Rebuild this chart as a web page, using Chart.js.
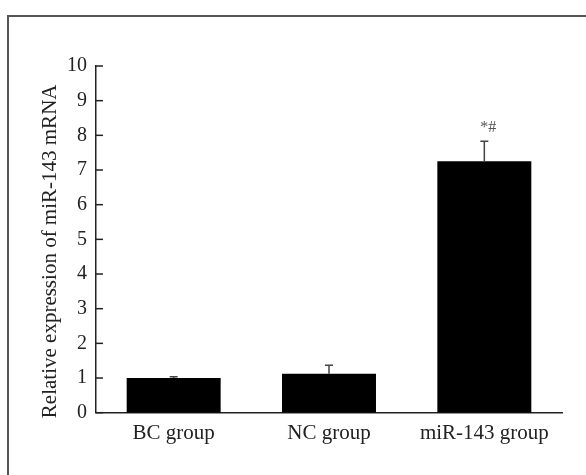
<!DOCTYPE html>
<html>
<head>
<meta charset="utf-8">
<script src="https://cdn.jsdelivr.net/npm/chart.js@4"></script>
<style>
  html, body { margin: 0; padding: 0; background: #fff; }
  #wrap { position: relative; width: 586px; height: 475px; overflow: hidden; }
  #frame {
    position: absolute; left: 7px; top: 15px; width: 700px; height: 600px;
    border-left: 2px solid #555; border-top: 2px solid #555;
  }
  canvas { position: absolute; left: 0; top: 0; }
</style>
</head>
<body>
<div id="wrap">
  <div id="frame"></div>
  <canvas id="chart" width="586" height="475"></canvas>
</div>
<script>
const groups = ['BC group', 'NC group', 'miR-143 group']
const means = [1.0, 1.12, 7.25]
const errors = [0.04, 0.25, 0.58]
const marks = ['', '', '*#']
const yTicks = [0, 1, 2, 3, 4, 5, 6, 7, 8, 9, 10]
const yTitle = 'Relative expression of miR-143 mRNA'

const serif = "'Liberation Serif', 'Times New Roman', serif"

// error bars, inward y ticks, significance marks and the y title
const extras = {
  id: 'extras',
  afterDatasetsDraw(chart) {
    const ctx = chart.ctx
    const x = chart.scales.x
    const y = chart.scales.y
    ctx.save()
    ctx.strokeStyle = '#444'
    ctx.lineWidth = 1.5
    means.forEach((m, i) => {
      const cx = x.getPixelForValue(i)
      const top = y.getPixelForValue(m + errors[i])
      ctx.beginPath()
      ctx.moveTo(cx, y.getPixelForValue(m))
      ctx.lineTo(cx, top)
      ctx.moveTo(cx - 4, top)
      ctx.lineTo(cx + 4, top)
      ctx.stroke()
      if (marks[i]) {
        ctx.fillStyle = '#555'
        ctx.font = '16px ' + serif
        ctx.textAlign = 'center'
        ctx.textBaseline = 'middle'
        ctx.fillText(marks[i], cx + 4, top - 13)
      }
    })
    ctx.strokeStyle = '#222'
    ctx.lineWidth = 1.5
    yTicks.forEach(v => {
      const py = y.getPixelForValue(v)
      ctx.beginPath()
      ctx.moveTo(x.left, py)
      ctx.lineTo(x.left + 7, py)
      ctx.stroke()
    })
    // title sits a little below the axis centre, as in the figure
    ctx.translate(50, (y.top + y.bottom) / 2 + 12)
    ctx.rotate(-Math.PI / 2)
    ctx.fillStyle = '#222'
    ctx.font = '21px ' + serif
    ctx.textAlign = 'center'
    ctx.textBaseline = 'middle'
    ctx.fillText(yTitle, 0, 0)
    ctx.restore()
  }
}

new Chart(document.getElementById('chart'), {
  type: 'bar',
  data: {
    labels: groups,
    datasets: [{
      data: means,
      backgroundColor: '#000',
      borderWidth: 0,
      barPercentage: 0.605,
      categoryPercentage: 1
    }]
  },
  options: {
    responsive: false,
    animation: false,
    events: [],
    layout: { padding: { left: 33, right: 24, top: 66, bottom: 0 } },
    plugins: { legend: { display: false }, tooltip: { enabled: false } },
    scales: {
      x: {
        grid: { display: false, drawTicks: false },
        border: { color: '#222', width: 1.5 },
        ticks: { color: '#222', font: { family: serif, size: 21 }, padding: 8 },
        afterFit: s => { s.height = 62.3 }
      },
      y: {
        min: 0,
        max: 10,
        afterBuildTicks: s => { s.ticks = yTicks.map(v => ({ value: v })) },
        grid: { display: false, drawTicks: false },
        border: { color: '#222', width: 1.5 },
        ticks: { color: '#222', font: { family: serif, size: 20 }, padding: 9 },
        afterFit: s => { s.width = 63 }
      }
    }
  },
  plugins: [extras]
})
</script>
</body>
</html>
